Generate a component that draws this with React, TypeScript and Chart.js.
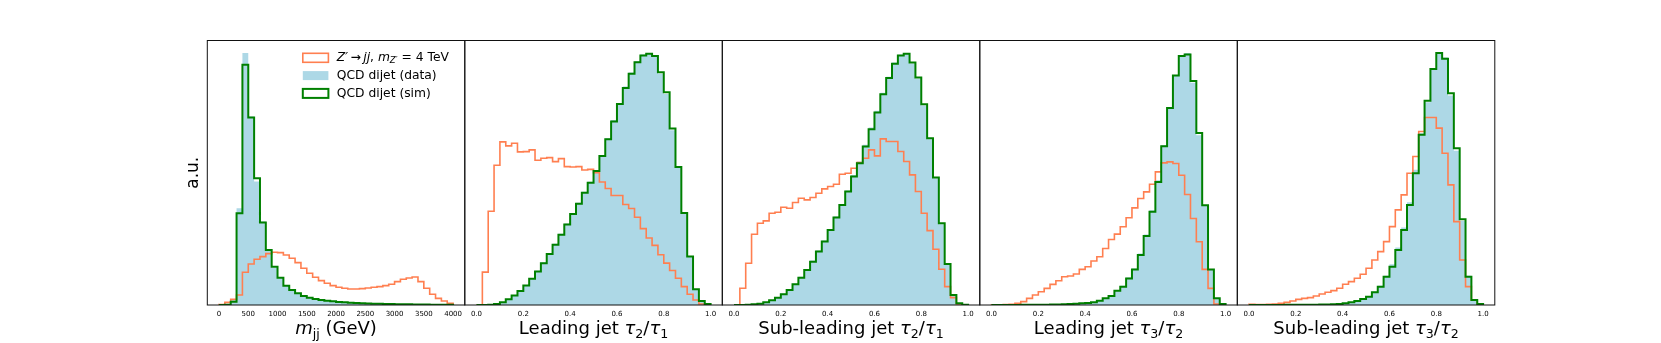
import React, { useEffect, useRef } from "react";
import { Chart, registerables } from "chart.js";

Chart.register(...registerables);
Chart.defaults.font.family = '"DejaVu Sans", sans-serif';

// ---------------- data ----------------
const mjjTicks = [0, 500, 1000, 1500, 2000, 2500, 3000, 3500, 4000];
const ratioTicks = [0, 0.2, 0.4, 0.6, 0.8, 1.0];

// m_jj, 40 bins from 0 to 4000 GeV
const signalMjj = [1, 8, 17, 30, 98, 123, 137, 145, 154, 158, 157, 150, 140, 127, 110, 95, 83, 73, 65, 58, 53, 50, 48, 48, 49, 51, 53, 55, 58, 62, 70, 77, 81, 84, 70, 50, 32, 20, 12, 5];
const dataMjj = [0, 2, 14, 290, 755, 565, 370, 250, 163, 112, 80, 57, 44, 34, 26, 21, 17, 14, 12, 10, 9, 8, 7, 6, 5, 4.5, 4, 3.5, 3, 2.7, 2.4, 2.1, 1.9, 1.7, 1.5, 1.3, 1.1, 1, 0.9, 0.8];
const simMjj = [0, 1, 10, 275, 720, 562, 380, 247, 165, 115, 82, 58, 45, 35, 27, 22, 18, 15, 13, 11, 9, 8, 7, 6, 5, 4.5, 4, 3.5, 3, 2.7, 2.4, 2.1, 1.9, 1.7, 1.5, 1.3, 1.1, 1, 0.9, 0.8];

// leading jet tau2/tau1, 40 bins from 0 to 1
const signalTau21J1 = [0, 98, 280, 417, 487, 475, 483, 457, 458, 463, 432, 438, 440, 428, 437, 413, 412, 413, 403, 405, 395, 367, 348, 327, 327, 300, 288, 262, 228, 200, 178, 150, 125, 103, 80, 55, 32, 15, 3, 0];
const dataTau21J1 = [0, 0, 1, 4, 9, 18, 29, 43, 60, 80, 102, 127, 155, 183, 213, 243, 275, 305, 338, 368, 403, 448, 498, 552, 603, 652, 694, 728, 748, 752, 740, 690, 630, 522, 410, 272, 143, 46, 11, 3];
const simTau21J1 = [0, 0, 1, 3, 8, 17, 28, 42, 58, 78, 100, 125, 152, 180, 210, 240, 272, 302, 335, 365, 400, 445, 495, 548, 600, 648, 690, 725, 745, 750, 743, 695, 635, 527, 412, 275, 145, 47, 12, 3];

// sub-leading jet tau2/tau1
const signalTau21J2 = [0, 50, 125, 212, 245, 252, 275, 278, 293, 290, 307, 320, 315, 322, 335, 348, 355, 362, 392, 395, 410, 427, 440, 465, 447, 498, 490, 490, 460, 430, 390, 340, 275, 223, 167, 107, 55, 22, 3, 0];
const dataTau21J2 = [0, 0, 1, 3, 5, 9, 15, 23, 34, 47, 64, 85, 108, 133, 163, 193, 228, 265, 303, 343, 390, 430, 480, 532, 582, 636, 684, 727, 750, 755, 724, 678, 598, 497, 380, 242, 120, 29, 5, 1];
const simTau21J2 = [0, 0, 1, 2, 4, 8, 14, 22, 32, 45, 62, 82, 105, 130, 160, 190, 225, 262, 300, 340, 385, 425, 475, 527, 577, 632, 680, 723, 748, 753, 727, 682, 602, 500, 382, 245, 123, 30, 5, 1];

// leading jet tau3/tau2
const signalTau32J1 = [0.5, 0.5, 1, 2, 5, 10, 20, 30, 40, 50, 62, 73, 85, 87, 93, 107, 115, 132, 145, 170, 197, 213, 235, 262, 292, 320, 340, 363, 400, 427, 430, 425, 390, 332, 260, 190, 107, 50, 3, 0];
const dataTau32J1 = [0, 0, 0, 0.2, 0.3, 0.4, 0.5, 0.6, 0.8, 1, 1.2, 1.5, 2, 3, 4, 5, 7, 9, 14, 21, 29, 45, 58, 83, 110, 155, 212, 285, 375, 480, 592, 688, 745, 757, 668, 510, 298, 105, 19, 3];
const simTau32J1 = [0, 0, 0, 0.2, 0.3, 0.4, 0.5, 0.6, 0.8, 1, 1.2, 1.5, 2, 3, 4, 5, 6, 8, 13, 20, 27, 43, 55, 80, 107, 150, 207, 280, 370, 477, 592, 690, 748, 753, 673, 517, 300, 107, 20, 3];

// sub-leading jet tau3/tau2
const signalTau32J2 = [2, 1, 1, 2, 3, 5, 8, 12, 17, 20, 22, 27, 33, 38, 43, 50, 62, 70, 80, 92, 110, 135, 160, 190, 235, 285, 330, 395, 445, 520, 562, 562, 530, 455, 360, 250, 135, 55, 15, 2];
const dataTau32J2 = [0, 0, 0, 0.2, 0.3, 0.3, 0.4, 0.5, 0.6, 0.7, 0.8, 1, 1.3, 1.6, 2.2, 3.2, 5.5, 9, 13, 19, 27, 40, 58, 88, 122, 172, 232, 308, 405, 515, 608, 705, 752, 742, 628, 462, 252, 88, 16, 3];
const simTau32J2 = [0, 0, 0, 0.2, 0.3, 0.3, 0.4, 0.5, 0.6, 0.7, 0.8, 1, 1.2, 1.5, 2, 3, 5, 8, 12, 18, 25, 38, 55, 85, 115, 165, 225, 300, 395, 510, 612, 707, 755, 738, 635, 470, 257, 85, 15, 3];

const seriesNames = ["Z'→jj, m_Z' = 4 TeV", "QCD dijet (data)", "QCD dijet (sim)"];

// ---------------- styles / layout ----------------
const COLOR_SIGNAL = "#ff7f50";
const COLOR_DATA = "#add8e6";
const COLOR_SIM = "#008000";

const FIG_W = 1661;
const FIG_H = 343;
const PLOT_LEFT0 = 207.3;
const PLOT_W = 257.5;
const PLOT_TOP = 40.5;
const PLOT_BOTTOM = 305;
const CANVAS_PAD = 40;
const CANVAS_W = 340;

type Seg = { t: string; it?: boolean; sub?: boolean };

const legendRich: Seg[][] = [
  [
    { t: "Z′", it: true },
    { t: "\u2009→\u2009" },
    { t: "jj", it: true },
    { t: ", " },
    { t: "m", it: true },
    { t: "Z′", it: true, sub: true },
    { t: " = 4 TeV" },
  ],
  [{ t: "QCD dijet (data)" }],
  [{ t: "QCD dijet (sim)" }],
];

const tauTitle = (prefix: string, a: string, b: string): Seg[] => [
  { t: prefix },
  { t: "τ", it: true },
  { t: a, sub: true },
  { t: "/" },
  { t: "τ", it: true },
  { t: b, sub: true },
];

type PanelCfg = {
  lo: number;
  hi: number;
  ticks: number[];
  decimals: number;
  signal: number[];
  data: number[];
  sim: number[];
  title: Seg[];
};

const panels: PanelCfg[] = [
  {
    lo: 0, hi: 4000, ticks: mjjTicks, decimals: 0,
    signal: signalMjj, data: dataMjj, sim: simMjj,
    title: [{ t: "m", it: true }, { t: "jj", sub: true }, { t: " (GeV)" }],
  },
  {
    lo: 0, hi: 1, ticks: ratioTicks, decimals: 1,
    signal: signalTau21J1, data: dataTau21J1, sim: simTau21J1,
    title: tauTitle("Leading jet ", "2", "1"),
  },
  {
    lo: 0, hi: 1, ticks: ratioTicks, decimals: 1,
    signal: signalTau21J2, data: dataTau21J2, sim: simTau21J2,
    title: tauTitle("Sub-leading jet ", "2", "1"),
  },
  {
    lo: 0, hi: 1, ticks: ratioTicks, decimals: 1,
    signal: signalTau32J1, data: dataTau32J1, sim: simTau32J1,
    title: tauTitle("Leading jet ", "3", "2"),
  },
  {
    lo: 0, hi: 1, ticks: ratioTicks, decimals: 1,
    signal: signalTau32J2, data: dataTau32J2, sim: simTau32J2,
    title: tauTitle("Sub-leading jet ", "3", "2"),
  },
];

function stepPoints(lo: number, hi: number, values: number[]) {
  const w = (hi - lo) / values.length;
  const pts = [{ x: lo, y: 0 }];
  values.forEach((v, i) => pts.push({ x: lo + i * w, y: v }));
  pts.push({ x: hi, y: 0 });
  return pts;
}

function segFont(s: Seg, size: number) {
  const sz = s.sub ? size * 0.7 : size;
  return `${s.it ? "italic " : ""}${sz}px "DejaVu Sans", sans-serif`;
}

function drawRich(ctx: CanvasRenderingContext2D, segs: Seg[], x: number, y: number, size: number, align: "center" | "left") {
  ctx.textAlign = "left";
  let total = 0;
  const widths = segs.map((s) => {
    ctx.font = segFont(s, size);
    const w = ctx.measureText(s.t).width;
    total += w;
    return w;
  });
  let cx = align === "center" ? x - total / 2 : x;
  segs.forEach((s, i) => {
    ctx.font = segFont(s, size);
    ctx.fillText(s.t, cx, s.sub ? y + size * 0.22 : y);
    cx += widths[i];
  });
}

// dataset indexes in legend order: signal, data, sim
const LEGEND_ORDER = [1, 2, 0];

const decorPlugin = {
  id: "decor",
  afterDraw(chart: any, _args: any, opts: any) {
    const { ctx, chartArea: a } = chart;
    ctx.save();
    ctx.strokeStyle = "#111";
    ctx.lineWidth = 1;
    ctx.strokeRect(a.left, a.top, a.right - a.left, a.bottom - a.top);

    ctx.fillStyle = "#000";
    ctx.textBaseline = "alphabetic";
    drawRich(ctx, opts.title, (a.left + a.right) / 2, a.bottom + 29, 18, "center");

    if (opts.first) {
      // y-axis label
      ctx.save();
      ctx.translate(a.left - 13.3, (a.top + a.bottom) / 2);
      ctx.rotate(-Math.PI / 2);
      ctx.font = '17px "DejaVu Sans", sans-serif';
      ctx.textAlign = "center";
      ctx.textBaseline = "middle";
      ctx.fillText("a.u.", 0, 0);
      ctx.restore();

      // legend
      LEGEND_ORDER.forEach((dsIndex, row) => {
        const ds = chart.data.datasets[dsIndex];
        const cy = a.top + 17.3 + row * 17.8;
        const bx = a.right - 162;
        const bw = 25.6;
        const bh = 9;
        if (ds.fill) {
          ctx.fillStyle = ds.backgroundColor;
          ctx.fillRect(bx, cy - bh / 2, bw, bh);
        } else {
          ctx.strokeStyle = ds.borderColor;
          ctx.lineWidth = ds.borderWidth;
          ctx.strokeRect(bx, cy - bh / 2, bw, bh);
        }
        ctx.fillStyle = "#000";
        ctx.textBaseline = "middle";
        drawRich(ctx, legendRich[row], a.right - 128, cy, 12.3, "left");
      });
    }
    ctx.restore();
  },
};

function Panel({ cfg, index }: { cfg: PanelCfg; index: number }) {
  const ref = useRef<HTMLCanvasElement | null>(null);
  const plotLeft = PLOT_LEFT0 + index * PLOT_W;
  const canvasLeft = Math.floor(plotLeft) - CANVAS_PAD;

  useEffect(() => {
    if (!ref.current) return;
    const span = cfg.hi - cfg.lo;
    const yMax = 1.05 * Math.max(...cfg.signal, ...cfg.data, ...cfg.sim);
    const padLeft = plotLeft - canvasLeft;
    const chart = new Chart(ref.current, {
      type: "line",
      data: {
        datasets: [
          {
            label: seriesNames[2],
            data: stepPoints(cfg.lo, cfg.hi, cfg.sim),
            stepped: "before",
            borderColor: COLOR_SIM,
            borderWidth: 2,
            pointRadius: 0,
            fill: false,
            order: 0,
          },
          {
            label: seriesNames[0],
            data: stepPoints(cfg.lo, cfg.hi, cfg.signal),
            stepped: "before",
            borderColor: COLOR_SIGNAL,
            borderWidth: 1.6,
            pointRadius: 0,
            fill: false,
            order: 1,
          },
          {
            label: seriesNames[1],
            data: stepPoints(cfg.lo, cfg.hi, cfg.data),
            stepped: "before",
            borderColor: "rgba(0,0,0,0)",
            borderWidth: 0,
            backgroundColor: COLOR_DATA,
            pointRadius: 0,
            fill: "origin",
            order: 2,
          },
        ],
      } as any,
      options: {
        animation: false,
        responsive: false,
        layout: {
          padding: {
            left: padLeft,
            right: CANVAS_W - padLeft - PLOT_W,
            top: PLOT_TOP,
            bottom: 0,
          },
        },
        plugins: {
          legend: { display: false },
          tooltip: { enabled: false },
          decor: { title: cfg.title, first: index === 0 },
        } as any,
        scales: {
          x: {
            type: "linear",
            min: cfg.lo - 0.05 * span,
            max: cfg.hi + 0.05 * span,
            grid: { display: false, drawTicks: false },
            border: { display: false },
            afterBuildTicks: (scale: any) => {
              scale.ticks = cfg.ticks.map((v) => ({ value: v }));
            },
            afterFit: (scale: any) => {
              scale.height = FIG_H - PLOT_BOTTOM;
            },
            ticks: {
              autoSkip: false,
              maxRotation: 0,
              padding: 5,
              color: "#000",
              font: { size: 7 },
              callback: (v: any) => Number(v).toFixed(cfg.decimals),
            },
          },
          y: { display: false, min: 0, max: yMax },
        },
      } as any,
      plugins: [decorPlugin],
    });
    return () => chart.destroy();
  }, []);

  return (
    <canvas
      ref={ref}
      width={CANVAS_W}
      height={FIG_H}
      style={{ position: "absolute", left: canvasLeft, top: 0, width: CANVAS_W, height: FIG_H }}
    />
  );
}

export default function App() {
  return (
    <div style={{ position: "absolute", left: 0, top: 0, width: FIG_W, height: FIG_H, background: "#fff", overflow: "hidden" }}>
      {panels.map((p, i) => (
        <Panel key={i} cfg={p} index={i} />
      ))}
    </div>
  );
}
